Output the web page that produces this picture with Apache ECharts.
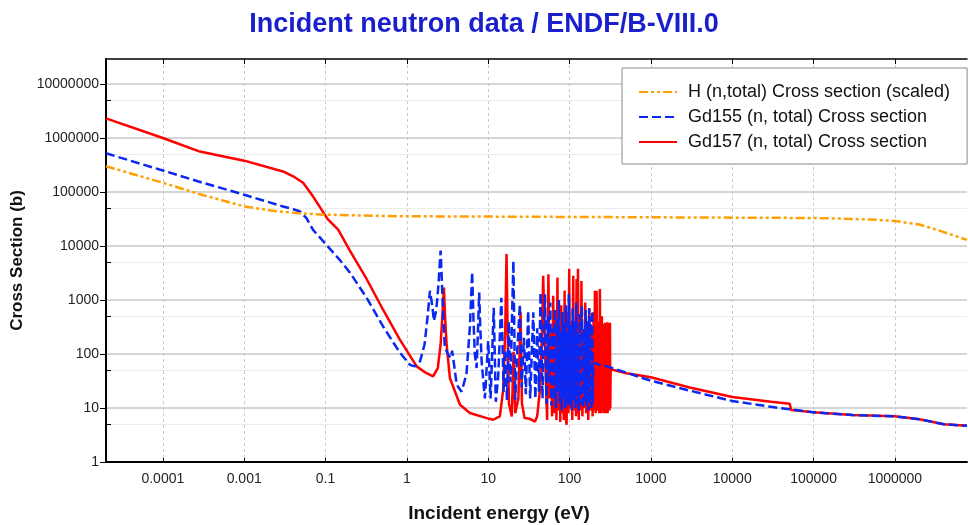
<!DOCTYPE html>
<html><head><meta charset="utf-8">
<script src="https://cdn.jsdelivr.net/npm/echarts@6/dist/echarts.min.js"></script>
<style>html,body{margin:0;padding:0;background:#fff}#c{width:968px;height:525px}</style>
</head><body><div id="c"></div>
<script>
// Tick positions and labels (labels reproduced exactly as printed on the reference)
const xTickValues = [1e-3, 1e-2, 1e-1, 1, 10, 100, 1e3, 1e4, 1e5, 1e6];
const xTickLabels = ['0.0001', '0.001', '0.1', '1', '10', '100', '1000', '10000', '100000', '1000000'];
const yTickValues = [1, 10, 100, 1e3, 1e4, 1e5, 1e6, 1e7];
const yTickLabels = ['1', '10', '100', '1000', '10000', '100000', '1000000', '10000000'];
const yMinorValues = [5, 50, 500, 5e3, 5e4, 5e5, 5e6];

// H (n,total) cross section (scaled): [energy eV, barns]
const hData = [
  [2.0e-4, 3.0e5], [1e-3, 1.48e5], [3e-3, 8.9e4], [1e-2, 5.4e4], [2.5e-2, 4.4e4], [5e-2, 4.0e4],
  [0.1, 3.8e4], [0.5, 3.6e4], [1, 3.55e4], [10, 3.5e4], [100, 3.45e4], [1e3, 3.4e4], [1e4, 3.35e4],
  [1e5, 3.3e4], [5e5, 3.1e4], [1e6, 2.9e4], [2e6, 2.5e4], [3.6e6, 1.9e4], [7.7e6, 1.3e4]
];

// Gd155 (n, total)
const gd155Data = [
  [2e-4, 5.2e5], [1e-3, 2.5e5], [3e-3, 1.5e5], [1e-2, 8.9e4], [0.03, 5.4e4], [0.04, 4.8e4], [0.048, 4.4e4],
  [0.058, 3.3e4], [0.07, 2.0e4], [0.1, 1.1e4], [0.15, 5.5e3], [0.2, 3.2e3], [0.32, 1.1e3], [0.51, 323],
  [0.82, 106], [1.09, 63], [1.25, 59], [1.45, 73], [1.65, 150], [1.8, 500], [1.92, 1480], [2.05, 800],
  [2.15, 410], [2.3, 650], [2.45, 2000], [2.6, 8200], [2.7, 2000], [2.8, 500], [2.93, 130], [3.23, 98],
  [3.45, 85], [3.6, 115], [3.75, 75], [4.1, 27], [4.7, 20], [5.4, 42], [5.95, 310], [6.35, 3300],
  [6.6, 400], [6.85, 98], [7.2, 55], [7.5, 300], [7.75, 1380], [8.0, 300], [8.3, 73], [9.1, 15],
  [10.0, 174], [10.7, 15], [11.7, 720], [12.4, 13], [13.3, 40], [14.5, 1100], [15.5, 20], [16.2, 120],
  [17.0, 14], [17.9, 400], [18.8, 30], [20.4, 5300], [21.5, 14], [22.8, 120], [24.5, 840], [25.8, 24],
  [27.5, 200], [29, 18], [31, 630], [32.8, 15], [35.8, 590], [38, 15], [40, 300], [42, 20], [44, 1380],
  [46.5, 15], [48, 200], [50, 1280], [52, 12], [54, 500], [56, 30], [58, 900], [60, 11], [62, 300],
  [64, 14], [66, 700], [68, 10], [70, 450], [72, 20], [74, 1000], [76, 12], [78, 250], [80, 9], [82, 600],
  [84, 15], [86, 380], [88, 10], [90, 800], [92, 13], [94, 200], [96, 10], [98, 1280], [100, 12],
  [103, 350], [106, 9], [109, 700], [112, 14], [115, 420], [118, 10], [121, 900], [124, 12], [127, 260],
  [130, 9], [134, 550], [138, 12], [142, 800], [146, 10], [150, 300], [154, 13], [158, 650], [162, 11],
  [166, 400], [170, 9], [174, 700], [178, 12], [182, 500], [186, 10], [190, 630], [193, 12], [196, 68],
  [300, 58], [500, 45], [1000, 32], [3000, 21], [1e4, 13.5], [3e4, 10.5], [1e5, 8.3], [3e5, 7.4],
  [1e6, 7.0], [2e6, 6.2], [4e6, 5.0], [7.7e6, 4.7]
];

// Gd157 (n, total)
const gd157Data = [
  [2e-4, 2.3e6], [1e-3, 1.0e6], [2.85e-3, 5.6e5], [1e-2, 3.8e5], [0.03, 2.4e5], [0.04, 1.95e5],
  [0.053, 1.48e5], [0.07, 8.3e4], [0.085, 5.3e4], [0.107, 3.1e4], [0.143, 2.0e4], [0.2, 8.1e3],
  [0.32, 2450], [0.51, 660], [0.82, 185], [1.32, 59], [1.7, 45], [2.1, 38.5], [2.4, 55], [2.6, 150],
  [2.75, 600], [2.85, 1700], [2.95, 500], [3.08, 150], [3.38, 36], [4.5, 11.5], [5.95, 8.1], [9.6, 6.5],
  [11.5, 6.06], [13.9, 7], [15.3, 22], [16.2, 300], [16.8, 7100], [17.3, 300], [18, 12], [19.5, 7],
  [20.5, 110], [21.5, 8], [23.5, 15], [25, 590], [26, 12], [28, 6.5], [32.5, 6.3], [37.6, 5.6], [40, 7],
  [43.3, 22], [46, 300], [47.4, 2800], [51, 40], [53, 6], [55, 3000], [57, 15], [59, 250], [61, 7],
  [63, 1200], [65, 8], [67, 500], [69, 6], [71, 2600], [73, 9], [75, 180], [77, 5.5], [79, 800], [81, 8],
  [83, 350], [85, 6], [87, 1500], [89, 7], [92, 4.9], [95, 600], [97, 8], [99, 3800], [102, 10],
  [105, 400], [108, 6], [111, 2800], [114, 9], [117, 300], [120, 7], [122, 2450], [124.5, 8],
  [127, 3800], [130, 6], [134, 500], [137, 9], [140, 2250], [144, 7], [148, 250], [152, 10], [156, 900],
  [160, 8], [165, 400], [170, 6], [175, 700], [180, 9], [186, 300], [192, 7], [198, 600], [202, 9],
  [205, 1480], [210, 8], [215, 1480], [220, 9], [228, 400], [232, 8], [236, 1600], [242, 8], [250, 500],
  [254, 9], [258, 360], [262, 8], [266, 350], [270, 9], [274, 380], [278, 8], [282, 370], [286, 9],
  [290, 385], [294, 8], [298, 380], [302, 10], [306, 375], [310, 9], [314, 380], [317, 10], [320, 52],
  [500, 44], [1000, 37], [3000, 24], [1e4, 16], [3e4, 13], [5.1e4, 12], [5.3e4, 9.2], [1e5, 8.3],
  [3e5, 7.4], [1e6, 7.0], [2e6, 6.2], [4e6, 5.0], [7.7e6, 4.7]
];

const seriesNames = ['H (n,total) Cross section (scaled)', 'Gd155 (n, total) Cross section', 'Gd157 (n, total) Cross section'];

const xMin = 2.0e-4, xMax = 7.7e6, yMin = 1, yMax = 2.9e7;
const mainFont = "'Liberation Sans', Arial, sans-serif";

function lookupLabel(vals, labels, v) {
  for (let i = 0; i < vals.length; i++) {
    if (Math.abs(Math.log10(v) - Math.log10(vals[i])) < 1e-6) return labels[i];
  }
  return '';
}

const chart = echarts.init(document.getElementById('c'), null, { renderer: 'canvas' });
chart.setOption({
  animation: false,
  backgroundColor: '#fff',
  title: {
    text: 'Incident neutron data / ENDF/B-VIII.0',
    left: 'center', top: 6,
    textStyle: { fontFamily: mainFont, fontSize: 27, fontWeight: 'bold', color: '#1a1fcc' }
  },
  grid: { left: 106, right: 1, top: 59, bottom: 63, containLabel: false, outerBoundsMode: 'none',
          show: false },
  legend: {
    orient: 'vertical', left: 622, top: 68, padding: [15, 17, 13, 16], itemGap: 7,
    itemWidth: 38, itemHeight: 14, backgroundColor: '#fff', borderColor: '#8a8a8a', borderWidth: 1,
    itemStyle: { color: 'rgba(0,0,0,0)', borderWidth: 0, opacity: 0 },
    textStyle: { fontFamily: mainFont, fontSize: 18, lineHeight: 14, color: '#111', padding: [0, 0, 0, 6] },
    data: seriesNames
  },
  xAxis: [{
    type: 'log', logBase: 10, min: xMin, max: xMax, position: 'bottom',
    name: 'Incident energy (eV)', nameLocation: 'middle', nameGap: 42,
    nameTextStyle: { fontFamily: mainFont, fontSize: 19, fontWeight: 'bold', color: '#111', padding: [0, 75, 0, 0] },
    axisLine: { show: true, lineStyle: { color: '#000', width: 2 } },
    axisTick: { show: true, inside: true, length: 4, customValues: xTickValues, lineStyle: { color: '#000' } },
    axisLabel: { customValues: xTickValues, margin: 10, fontFamily: mainFont, fontSize: 14, color: '#222',
                 formatter: v => lookupLabel(xTickValues, xTickLabels, v) },
    splitLine: { show: true, lineStyle: { color: '#c8c8c8', width: 1, type: [3, 3] } },
    minorTick: { show: false }
  }, {
    type: 'log', logBase: 10, min: xMin, max: xMax, position: 'top',
    axisLine: { show: true, lineStyle: { color: '#000', width: 1.5 } },
    axisTick: { show: true, inside: true, length: 5, customValues: xTickValues, lineStyle: { color: '#000' } },
    axisLabel: { show: false }, splitLine: { show: false }
  }],
  yAxis: [{
    type: 'log', logBase: 10, min: yMin, max: yMax, position: 'left',
    name: 'Cross Section (b)', nameLocation: 'middle', nameGap: 62, nameRotate: 90,
    nameTextStyle: { fontFamily: mainFont, fontSize: 17, fontWeight: 'bold', color: '#111' },
    axisLine: { show: true, lineStyle: { color: '#000', width: 2 } },
    axisTick: { show: true, inside: false, length: 6, customValues: yTickValues, lineStyle: { color: '#000' } },
    axisLabel: { customValues: yTickValues, margin: 7, fontFamily: mainFont, fontSize: 14, color: '#222',
                 formatter: v => lookupLabel(yTickValues, yTickLabels, v) },
    splitLine: { show: true, lineStyle: { color: '#c8c8c8', width: 1.5 } }
  }, {
    type: 'log', logBase: 10, min: yMin, max: yMax, position: 'left', offset: 0,
    axisLine: { show: false },
    axisTick: { show: true, inside: true, length: 5, customValues: yMinorValues, lineStyle: { color: '#000' } },
    axisLabel: { show: false },
    splitLine: { show: true, lineStyle: { color: '#ececec', width: 1 } }
  }],
  series: [{
    name: seriesNames[0], type: 'line', data: hData, xAxisIndex: 0, yAxisIndex: 0,
    symbol: 'none', showSymbol: false, z: 5,
    lineStyle: { color: '#ffa000', width: 2.5, type: [9, 3, 3, 3, 3, 3] }, itemStyle: { color: '#ffa000' }
  }, {
    name: seriesNames[1], type: 'line', data: gd155Data, xAxisIndex: 0, yAxisIndex: 0,
    symbol: 'none', showSymbol: false, z: 4,
    lineStyle: { color: '#0a28f0', width: 2.5, type: [9, 4] }, itemStyle: { color: '#0a28f0' }
  }, {
    name: seriesNames[2], type: 'line', data: gd157Data, xAxisIndex: 0, yAxisIndex: 0,
    symbol: 'none', showSymbol: false, z: 3,
    lineStyle: { color: '#ff0000', width: 2.5 }, itemStyle: { color: '#ff0000' }
  }]
});
</script>
</body></html>
